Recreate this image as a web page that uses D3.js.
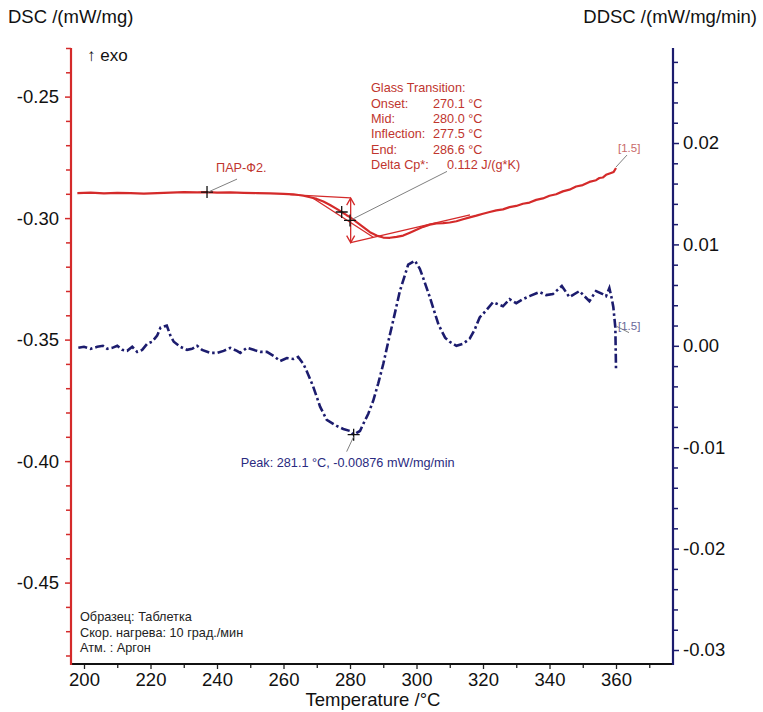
<!DOCTYPE html>
<html>
<head>
<meta charset="utf-8">
<script src="https://cdn.jsdelivr.net/npm/d3@7"></script>
<style>
  html, body { margin: 0; padding: 0; background: #fff; }
  svg { display: block; font-family: "Liberation Sans", Arial, sans-serif; }
</style>
</head>
<body>
<svg id="chart" width="763" height="712"></svg>
<script>
// DSC signal, mW/mg, vs temperature in °C
const dscT = [198, 202, 206, 210, 214, 218, 222, 226, 230, 234, 237, 240, 244, 248, 252, 256, 260, 263, 266, 268, 270, 272, 274, 276, 277.5, 279, 280, 281, 282, 284, 286, 288, 290, 292, 294, 296, 298, 300, 302, 304, 306, 308, 310, 312, 314, 316, 318, 320, 322, 324, 326, 328, 330, 332, 334, 336, 338, 340, 342, 344, 346, 348, 350, 352, 354, 355, 356, 357, 358.5, 359.3, 360];
const dscV = [-0.2897, -0.2895, -0.2898, -0.2896, -0.2897, -0.2899, -0.2897, -0.2895, -0.2893, -0.2894, -0.2893, -0.2895, -0.2894, -0.2896, -0.2897, -0.2898, -0.2900, -0.2902, -0.2908, -0.2914, -0.2921, -0.2932, -0.2946, -0.2962, -0.2975, -0.2988, -0.2996, -0.3006, -0.3017, -0.3037, -0.3058, -0.3072, -0.3080, -0.3081, -0.3077, -0.3072, -0.3060, -0.3048, -0.3036, -0.3027, -0.3022, -0.3021, -0.3018, -0.3013, -0.3005, -0.2997, -0.2990, -0.2982, -0.2975, -0.2968, -0.2964, -0.2955, -0.2950, -0.2941, -0.2936, -0.2925, -0.2919, -0.2908, -0.2902, -0.2890, -0.2883, -0.2870, -0.2864, -0.2851, -0.2844, -0.2835, -0.2833, -0.2822, -0.2814, -0.2810, -0.2794];

// DDSC signal (derivative), mW/mg/min
const ddscT = [198.3, 200, 202, 204, 205.7, 207, 208.5, 210, 211.5, 213, 214.5, 216, 217.5, 219, 220.5, 222, 223, 224.9, 226, 227, 229, 231, 232.5, 234, 235.5, 238, 240, 242, 244, 246, 247, 249, 251, 253, 255, 257, 259, 261, 263, 264.4, 266, 267, 268.9, 271, 273, 276, 278, 280, 281.1, 283, 284, 285.5, 287, 288.5, 290, 291.5, 293, 295, 297.5, 299.5, 301, 302, 304, 306.6, 308.6, 310, 312, 314, 316, 317.5, 319, 321, 323, 326, 328, 330, 332, 334, 337, 339, 341, 343.7, 346, 349, 352, 354, 356, 357, 358, 358.7, 359.2, 359.8, 360];
const ddscV = [-0.0002, -0.0001, -0.0003, -0.0001, 0.0000, -0.0003, -0.0002, 0.0000, -0.0004, -0.0005, -0.0001, -0.0006, -0.0004, 0.0002, 0.0004, 0.0010, 0.0018, 0.0020, 0.0010, 0.0004, -0.0001, -0.0004, -0.0003, 0.0000, -0.0004, -0.0007, -0.0007, -0.0005, -0.0002, -0.0005, -0.0007, -0.0002, -0.0004, -0.0006, -0.0006, -0.0010, -0.0015, -0.0012, -0.0013, -0.0011, -0.0018, -0.0025, -0.0040, -0.0060, -0.0073, -0.0079, -0.0082, -0.0084, -0.00876, -0.0084, -0.0077, -0.0067, -0.0054, -0.0037, -0.0018, 0.0004, 0.0025, 0.0054, 0.0080, 0.0084, 0.0076, 0.0067, 0.0048, 0.0021, 0.0008, 0.0004, 0.0000, 0.0002, 0.0007, 0.0016, 0.0028, 0.0035, 0.0043, 0.0039, 0.0046, 0.0042, 0.0046, 0.0049, 0.0053, 0.0050, 0.0051, 0.0059, 0.0048, 0.0054, 0.0044, 0.0054, 0.0051, 0.0049, 0.0057, 0.0047, 0.0038, 0.0018, -0.0023];

// Axis ticks
const xTicks = [200, 220, 240, 260, 280, 300, 320, 340, 360];
const leftTicks = [-0.45, -0.40, -0.35, -0.30, -0.25];
const rightTicks = [-0.03, -0.02, -0.01, 0.00, 0.01, 0.02];

// Glass transition evaluation
const glassLabels = ["Onset:", "Mid:", "Inflection:", "End:", "Delta Cp*:"];
const glassValues = ["270.1 °C", "280.0 °C", "277.5 °C", "286.6 °C", "0.112 J/(g*K)"];
const glassOnset = 270.1, glassMid = 280.0, glassInflection = 277.5, glassEnd = 286.6;
// tangent constructions: [T0, v0, T1, v1]
const tangentUpper = [262, -0.2903, 280.2, -0.2917];
const tangentInflection = [268.9, -0.2918, 287.0, -0.3079];
const tangentLower = [280.2, -0.3101, 316.1, -0.2987];
const stepArrow = [280.2, -0.2918, -0.3101];

// Peak evaluation on DDSC
const peakT = 281.1, peakV = -0.00876;
// Curve label point
const curveLabelT = 237;

const infoLines = ["Образец: Таблетка", "Скор. нагрева: 10 град./мин", "Атм. : Аргон"];

const RED = "#d42a2a", RED_TEXT = "#c0352e", NAVY = "#1c1c6e", NAVY_TEXT = "#2a2a80", LEADER = "#808080";
const SMALL = 12.7;

const svg = d3.select("#chart");
const plot = { left: 71, right: 673, top: 48, bottom: 664 };

const x = d3.scaleLinear().domain([196.09, 377.14]).range([plot.left, plot.right]);
const yL = d3.scaleLinear().domain([-0.4835, -0.23]).range([plot.bottom, plot.top]);
const yR = d3.scaleLinear().domain([-0.03138, 0.02937]).range([plot.bottom, plot.top]);

const dscData = dscT.map((t, i) => [t, dscV[i]]);
const ddscData = ddscT.map((t, i) => [t, ddscV[i]]);
const dscAt = t => d3.scaleLinear().domain(dscT).range(dscV)(t);

const fmt = d => d.toFixed(2);

// Bottom axis
const xMinor = d3.range(210, 380, 20);
svg.append("g").attr("transform", `translate(0,${plot.bottom})`)
  .call(d3.axisBottom(x).tickValues(xMinor).tickSize(4).tickFormat(""))
  .call(g => g.select(".domain").remove())
  .call(g => g.selectAll("line").attr("stroke", "#222").attr("stroke-width", 1.3));
const gx = svg.append("g").attr("transform", `translate(0,${plot.bottom})`)
  .call(d3.axisBottom(x).tickValues(xTicks).tickSize(5).tickPadding(4).tickFormat(d3.format("d")));
gx.select(".domain").remove();
gx.selectAll("line").attr("stroke", "#222").attr("stroke-width", 1.3);
gx.selectAll("text").attr("font-size", 18.5).attr("fill", "#111").attr("font-family", "Liberation Sans, Arial, sans-serif");
svg.append("line").attr("x1", plot.left).attr("x2", plot.right)
  .attr("y1", plot.bottom).attr("y2", plot.bottom).attr("stroke", "#111").attr("stroke-width", 2);

// Left (DSC) axis
const leftMinor = d3.range(-0.48, -0.2299, 0.01).filter(v => !leftTicks.some(t => Math.abs(t - v) < 1e-6));
svg.append("g").attr("transform", `translate(${plot.left},0)`)
  .call(d3.axisLeft(yL).tickValues(leftMinor).tickSize(5).tickFormat(""))
  .call(g => g.select(".domain").remove())
  .call(g => g.selectAll("line").attr("stroke", RED).attr("stroke-width", 1.5));
const gl = svg.append("g").attr("transform", `translate(${plot.left},0)`)
  .call(d3.axisLeft(yL).tickValues(leftTicks).tickSize(6).tickPadding(6).tickFormat(fmt));
gl.select(".domain").remove();
gl.selectAll("line").attr("stroke", RED).attr("stroke-width", 1.5);
gl.selectAll("text").attr("font-size", 18.5).attr("fill", "#111").attr("font-family", "Liberation Sans, Arial, sans-serif");
svg.append("line").attr("x1", plot.left).attr("x2", plot.left)
  .attr("y1", plot.top).attr("y2", plot.bottom + 1).attr("stroke", RED).attr("stroke-width", 2.2);

// Right (DDSC) axis
const rightMinor = d3.range(-0.030, 0.0294, 0.002).filter(v => !rightTicks.some(t => Math.abs(t - v) < 1e-6));
svg.append("g").attr("transform", `translate(${plot.right},0)`)
  .call(d3.axisRight(yR).tickValues(rightMinor).tickSize(5).tickFormat(""))
  .call(g => g.select(".domain").remove())
  .call(g => g.selectAll("line").attr("stroke", NAVY).attr("stroke-width", 1.5));
const gr = svg.append("g").attr("transform", `translate(${plot.right},0)`)
  .call(d3.axisRight(yR).tickValues(rightTicks).tickSize(6).tickPadding(4).tickFormat(fmt));
gr.select(".domain").remove();
gr.selectAll("line").attr("stroke", NAVY).attr("stroke-width", 1.5);
gr.selectAll("text").attr("font-size", 18.5).attr("fill", "#111").attr("font-family", "Liberation Sans, Arial, sans-serif");
svg.append("line").attr("x1", plot.right).attr("x2", plot.right)
  .attr("y1", plot.top).attr("y2", plot.bottom + 1).attr("stroke", NAVY).attr("stroke-width", 2.2);

// Axis titles
svg.append("text").attr("x", 8).attr("y", 23).attr("font-size", 18.5).attr("fill", "#111").text("DSC /(mW/mg)");
svg.append("text").attr("x", 757).attr("y", 23).attr("text-anchor", "end").attr("font-size", 18.5).attr("fill", "#111").text("DDSC /(mW/mg/min)");
svg.append("text").attr("x", 373).attr("y", 706).attr("text-anchor", "middle").attr("font-size", 18.5).attr("fill", "#111").text("Temperature /°C");
svg.append("text").attr("x", 87).attr("y", 61).attr("font-size", 17).attr("fill", "#111").text("↑ exo");

// DDSC curve (dash-dot)
svg.append("path").datum(ddscData)
  .attr("fill", "none").attr("stroke", NAVY).attr("stroke-width", 2.6)
  .attr("stroke-dasharray", "9,3,2.5,3")
  .attr("d", d3.line().x(d => x(d[0])).y(d => yR(d[1])));

// Glass transition constructions
const seg = (s) => svg.append("line")
  .attr("x1", x(s[0])).attr("y1", yL(s[1])).attr("x2", x(s[2])).attr("y2", yL(s[3]))
  .attr("stroke", RED).attr("stroke-width", 1.3);
seg(tangentUpper);
seg(tangentInflection);
seg(tangentLower);

// Double arrow for the Cp step
const ax = x(stepArrow[0]), ay0 = yL(stepArrow[1]), ay1 = yL(stepArrow[2]);
svg.append("line").attr("x1", ax).attr("x2", ax).attr("y1", ay0).attr("y2", ay1)
  .attr("stroke", RED).attr("stroke-width", 1.3);
svg.append("path").attr("fill", "none").attr("stroke", RED).attr("stroke-width", 1.3)
  .attr("d", `M${ax - 4},${ay0 + 7}L${ax},${ay0}L${ax + 4},${ay0 + 7}M${ax - 4},${ay1 - 7}L${ax},${ay1}L${ax + 4},${ay1 - 7}`);

// DSC curve
svg.append("path").datum(dscData)
  .attr("fill", "none").attr("stroke", RED).attr("stroke-width", 2.2)
  .attr("stroke-linejoin", "round")
  .attr("d", d3.line().x(d => x(d[0])).y(d => yL(d[1])));

// Crosshair markers
const cross = (px, py) => svg.append("path")
  .attr("d", `M${px - 6},${py}H${px + 6}M${px},${py - 6}V${py + 6}`)
  .attr("stroke", "#111").attr("stroke-width", 1.3);
const midY = (ay0 + ay1) / 2;
cross(x(curveLabelT), yL(dscAt(curveLabelT)));
cross(x(glassInflection), yL(dscAt(glassInflection)));
cross(x(glassMid), midY);
cross(x(peakT), yR(peakV));

// Leader lines
const leader = (x1, y1, x2, y2) => svg.append("line")
  .attr("x1", x1).attr("y1", y1).attr("x2", x2).attr("y2", y2)
  .attr("stroke", LEADER).attr("stroke-width", 1);
leader(x(curveLabelT) + 1, yL(dscAt(curveLabelT)), x(curveLabelT) + 30, yL(dscAt(curveLabelT)) - 13);
leader(x(glassMid) + 2, midY - 1, x(glassMid) + 97, midY - 49);
leader(x(360), yL(dscAt(360)) - 1, x(360) + 11, yL(dscAt(360)) - 13);
leader(x(peakT), yR(peakV) + 2, x(peakT) - 7, yR(peakV) + 17);
leader(x(360) + 1, yR(0.0019), x(360) + 13, yR(0.0013));

// Annotation texts
svg.append("text").attr("x", x(curveLabelT) + 9).attr("y", yL(dscAt(curveLabelT)) - 20)
  .attr("font-size", SMALL).attr("fill", RED_TEXT).text("ПАР-Ф2.");

const gt = svg.append("g").attr("font-size", SMALL).attr("fill", RED_TEXT);
gt.append("text").attr("x", 371).attr("y", 92).text("Glass Transition:");
glassLabels.forEach((l, i) => {
  gt.append("text").attr("x", 371).attr("y", 107.5 + i * 15.4).text(l);
  gt.append("text").attr("x", i === 4 ? 447 : 433).attr("y", 107.5 + i * 15.4).text(glassValues[i]);
});

svg.append("text").attr("x", x(360) + 2).attr("y", yL(dscAt(360)) - 16)
  .attr("font-size", 11.5).attr("fill", "#c86a6a").text("[1.5]");
svg.append("text").attr("x", x(360) + 2).attr("y", yR(0.0019) + 3)
  .attr("font-size", 11.5).attr("fill", "#6a6a9a").text("[1.5]");

svg.append("text").attr("x", x(peakT) - 6).attr("y", yR(peakV) + 32).attr("text-anchor", "middle")
  .attr("font-size", SMALL).attr("fill", NAVY_TEXT)
  .text(`Peak: ${peakT.toFixed(1)} °C, ${peakV.toFixed(5)} mW/mg/min`);

// Measurement conditions
const info = svg.append("g").attr("font-size", SMALL).attr("fill", "#222");
infoLines.forEach((t, i) => info.append("text").attr("x", 80).attr("y", 621 + i * 15.7).text(t));
</script>
</body>
</html>
